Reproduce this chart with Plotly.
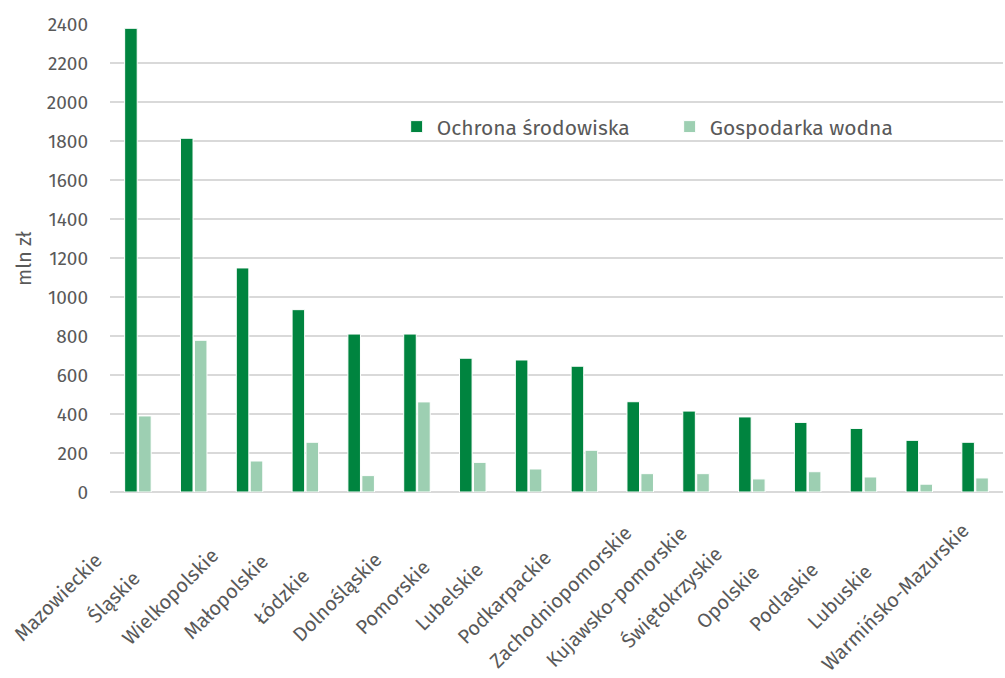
import plotly.graph_objects as go

regions = ["Mazowieckie", "Śląskie", "Wielkopolskie", "Małopolskie", "Łódzkie",
           "Dolnośląskie", "Pomorskie", "Lubelskie", "Podkarpackie",
           "Zachodniopomorskie", "Kujawsko-pomorskie", "Świętokrzyskie",
           "Opolskie", "Podlaskie", "Lubuskie", "Warmińsko-Mazurskie"]
ochrona = [2378, 1814, 1149, 935, 810, 810, 686, 677, 645, 463, 415, 385, 357, 326, 265, 255]
gospodarka = [390, 778, 159, 255, 84, 462, 152, 118, 214, 94, 94, 67, 104, 77, 40, 72]

FONT = "Fira Sans, Open Sans, sans-serif"
GREY = "#595959"

fig = go.Figure()
fig.add_trace(go.Bar(x=regions, y=ochrona, name="Ochrona środowiska",
                     marker=dict(color="#00843f", line=dict(color="white", width=1))))
fig.add_trace(go.Bar(x=regions, y=gospodarka, name="Gospodarka wodna",
                     marker=dict(color="#9dcfb2", line=dict(color="white", width=1))))

# rotated category labels, centred below each group
for i, r in enumerate(regions):
    fig.add_annotation(x=i, xref="x", y=-0.224, yref="paper", text=r, showarrow=False,
                       textangle=-45, xshift=-80, xanchor="center", yanchor="middle",
                       font=dict(family=FONT, size=20, color=GREY))

fig.add_annotation(x=-0.0963, xref="paper", y=0.5, yref="paper", text="mln zł",
                   showarrow=False, textangle=-90, xanchor="center", yanchor="middle",
                   font=dict(family=FONT, size=20, color=GREY))

fig.update_layout(
    width=1005, height=678,
    margin=dict(l=110, r=2, t=24, b=186),
    paper_bgcolor="white", plot_bgcolor="white",
    barmode="group", bargap=0.5, bargroupgap=0.1,
    font=dict(family=FONT, size=18, color=GREY),
    showlegend=True,
    legend=dict(orientation="h", x=0.321, y=0.78, xanchor="left", yanchor="middle",
                bgcolor="rgba(0,0,0,0)", font=dict(size=21, color=GREY),
                entrywidth=228, entrywidthmode="pixels", itemwidth=30),
)
fig.update_yaxes(range=[0, 2400], dtick=200, showgrid=True, gridcolor="#d9d9d9", gridwidth=2,
                 zeroline=True, zerolinecolor="#d9d9d9", zerolinewidth=2,
                 ticks="", ticklabelstandoff=21, automargin=False,
                 tickfont=dict(size=19, color=GREY))
fig.update_xaxes(type="category", categoryorder="array", categoryarray=regions,
                 range=[-0.5, len(regions) - 0.5],
                 showticklabels=False, showgrid=False, showline=False, ticks="",
                 automargin=False)

fig.write_html("out.html")
